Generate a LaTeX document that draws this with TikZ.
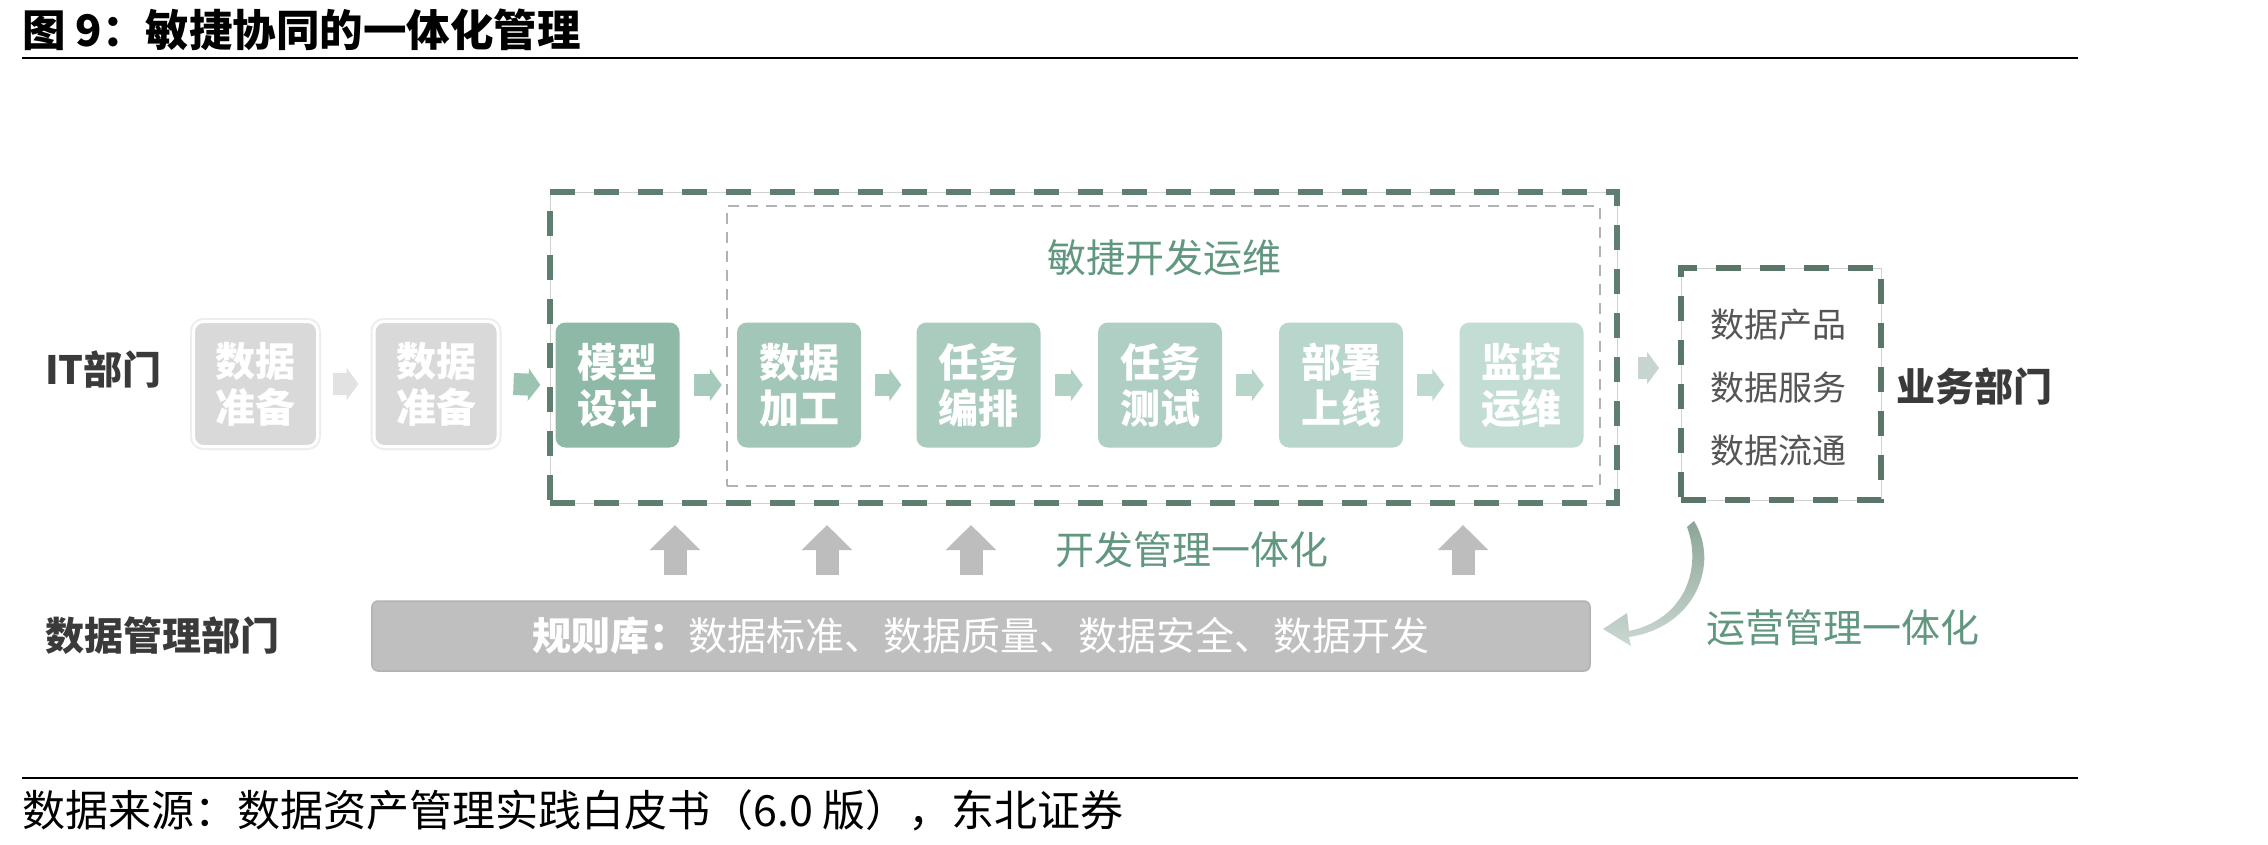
\documentclass[tikz,border=0pt]{standalone}
\usepackage{fontspec}
\setmainfont{Noto Sans CJK SC}
\usetikzlibrary{arrows.meta,calc}
\definecolor{dashgreen}{HTML}{5E7F70}
\definecolor{dashgreenB}{HTML}{5A7668}
\definecolor{boxgray}{HTML}{D9D9D9}
\definecolor{gA}{HTML}{8EB9A6}
\definecolor{gB}{HTML}{A2C7B8}
\definecolor{gC}{HTML}{A9CCBF}
\definecolor{gD}{HTML}{B0CFC4}
\definecolor{gE}{HTML}{B9D6CC}
\definecolor{gF}{HTML}{C3DDD5}
\definecolor{aA}{HTML}{E2E2E2}
\definecolor{aB}{HTML}{9DC3B2}
\definecolor{aC}{HTML}{A5C9BA}
\definecolor{aD}{HTML}{AACCBE}
\definecolor{aE}{HTML}{B2D1C5}
\definecolor{aF}{HTML}{B8D5CA}
\definecolor{aG}{HTML}{BED9CF}
\definecolor{aH}{HTML}{C8D4CE}
\definecolor{textgreen}{HTML}{62977F}
\definecolor{darktext}{HTML}{3A3A3A}
\definecolor{midtext}{HTML}{555555}
\definecolor{bargray}{HTML}{BFBFBF}
\definecolor{upgray}{HTML}{BDBDBD}
\definecolor{curveA}{HTML}{8CA598}
\definecolor{curveB}{HTML}{CBD8D1}
\begin{document}
\begin{tikzpicture}[x=1bp,y=-1bp,
  proc/.style={rectangle, rounded corners=10bp, minimum width=124bp, minimum height=125bp,
    inner sep=0pt, text=white, align=center, font=\bfseries\fontsize{40bp}{46bp}\selectfont},
  graybox/.style={proc, fill=boxgray, draw=white, line width=3bp,
    preaction={draw=black!7, line width=7bp}},
  greenbox/.style={proc, fill=#1},
  chev/.style={draw=#1, line width=22bp, -{Triangle[length=12bp,width=32bp]}},
  upar/.style={draw=upgray, line width=23bp, -{Triangle[length=25bp,width=49bp]}},
  bigdash/.style={rectangle, draw=#1, line width=6bp, dash pattern=on 25bp off 19bp,
    preaction={draw=black!18, line width=1bp, solid}, inner sep=0pt},
  thindash/.style={rectangle, draw=black!30, line width=2.5bp, dash pattern=on 11bp off 8bp, inner sep=0pt},
  lab/.style={inner sep=0pt, text=darktext, font=\bfseries\fontsize{39bp}{39bp}\selectfont},
  gtext/.style={inner sep=0pt, text=textgreen, font=\fontsize{39bp}{39bp}\selectfont},
  rtext/.style={inner sep=0pt, text=midtext, font=\fontsize{34bp}{34bp}\selectfont},
  rulebar/.style={rectangle, rounded corners=6bp, fill=bargray, draw=black!30, line width=1.5bp,
    minimum width=1218bp, minimum height=70bp, inner sep=0pt, text=white,
    font=\fontsize{39bp}{39bp}\selectfont}
]
\useasboundingbox (0,0) rectangle (2268,844);
\fill[white] (0,0) rectangle (2268,844);

% title and source
\node[anchor=west, inner sep=0pt, font=\bfseries\fontsize{43.5bp}{43.5bp}\selectfont] (title) at (22,30) {图 9：敏捷协同的一体化管理};
\draw[line width=2bp] (22,58) -- (2078,58);
\draw[line width=2bp] (22,778) -- (2078,778);
\node[anchor=west, inner sep=0pt, font=\fontsize{43bp}{43bp}\selectfont] (src) at (22,810) {数据来源：数据资产管理实践白皮书（6.0 版），东北证券};

% dashed frames
\node[bigdash=dashgreen, minimum width=1067bp, minimum height=311bp] (outer) at (1083.5,347.5) {};
\node[thindash, minimum width=873bp, minimum height=280bp] (inner) at (1163.5,346) {};
\node[bigdash=dashgreenB, minimum width=200bp, minimum height=232bp] (rbox) at (1781,384) {};

% labels
\node[lab, anchor=west] (it) at (45,369) {IT部门};
\node[lab, anchor=west] (dm) at (45,636) {数据管理部门};
\node[lab, anchor=west] (yw) at (1896,386) {业务部门};

% process boxes
\node[graybox] (g1) at (255.5,384) {数据\\准备};
\node[graybox] (g2) at (436,384) {数据\\准备};
\node[greenbox=gA] (p1) at (617.5,385) {模型\\设计};
\node[greenbox=gB] (p2) at (799,385) {数据\\加工};
\node[greenbox=gC] (p3) at (978.5,385) {任务\\编排};
\node[greenbox=gD] (p4) at (1160,385) {任务\\测试};
\node[greenbox=gE] (p5) at (1341,385) {部署\\上线};
\node[greenbox=gF] (p6) at (1521.5,385) {监控\\运维};

% chevron arrows
\draw[chev=aA] ([xshift=14bp]g1.east) -- ([xshift=-14bp]g2.west);
\draw[chev=aB] ([xshift=14bp]g2.east) -- ([xshift=-15bp]p1.west);
\draw[chev=aC] ([xshift=14bp]p1.east) -- ([xshift=-15bp]p2.west);
\draw[chev=aD] ([xshift=14bp]p2.east) -- ([xshift=-15bp]p3.west);
\draw[chev=aE] ([xshift=14bp]p3.east) -- ([xshift=-15bp]p4.west);
\draw[chev=aF] ([xshift=14bp]p4.east) -- ([xshift=-15bp]p5.west);
\draw[chev=aG] ([xshift=14bp]p5.east) -- ([xshift=-15bp]p6.west);
\coordinate (ry) at (0,368);
\draw[chev=aH] ($(outer.east |- ry)+(18,0)$) -- ($(rbox.west |- ry)+(-19,0)$);

% right box texts
\node[rtext] (r1) at (1778,325) {数据产品};
\node[rtext] (r2) at (1778,388) {数据服务};
\node[rtext] (r3) at (1778,451) {数据流通};

% green captions
\node[gtext] (agile) at (1164,258) {敏捷开发运维};
\node[gtext] (devm) at (1192,550) {开发管理一体化};
\node[gtext, anchor=west] (opsm) at (1706,628) {运营管理一体化};

% rule bar
\node[rulebar] (bar) at (981,636) {\textbf{规则库：}数据标准、数据质量、数据安全、数据开发};

% up arrows
\foreach \i/\x in {1/675,2/827,3/971,4/1463}{
  \coordinate (u\i) at (\x,0);
  \draw[upar] ($(bar.north -| u\i)+(0,-25)$) -- ($(outer.south -| u\i)+(0,19)$);
}

% curved arrow (operations management)
\coordinate (cs) at ($(rbox.south west)+(12,22)$);
\begin{scope}[shift={(cs)}]
\shade[top color=curveA, bottom color=curveB]
  (4,-4) .. controls (30,38) and (6,102) .. (-61,112)
  -- (-59,121) -- (-87,104) -- (-63,88) -- (-61,106)
  .. controls (-4,94) and (12,42) .. (-3,2) -- cycle;
\end{scope}
\end{tikzpicture}
\end{document}
